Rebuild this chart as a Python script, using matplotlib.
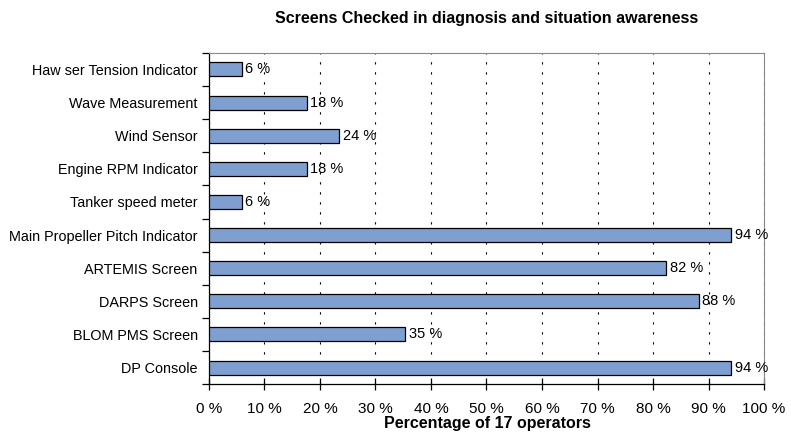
import matplotlib.pyplot as plt
import numpy as np
from matplotlib.ticker import MultipleLocator, FuncFormatter

plt.rcParams['font.family'] = ['Liberation Sans', 'DejaVu Sans']

# categories from top to bottom as in the chart
labels = ['Haw ser Tension Indicator', 'Wave Measurement', 'Wind Sensor',
          'Engine RPM Indicator', 'Tanker speed meter',
          'Main Propeller Pitch Indicator', 'ARTEMIS Screen', 'DARPS Screen',
          'BLOM PMS Screen', 'DP Console']
# percentage of 17 operators
values = [5.9, 17.6, 23.5, 17.6, 5.9, 94.1, 82.4, 88.2, 35.3, 94.1]
value_labels = ['6 %', '18 %', '24 %', '18 %', '6 %', '94 %', '82 %', '88 %', '35 %', '94 %']

fig = plt.figure(figsize=(7.91, 4.37), dpi=100)
ax = fig.add_axes([0.264, 0.121, 0.702, 0.758])

y = np.arange(len(labels))[::-1]
ax.barh(y, values, height=0.42, color='#7f9fd1', edgecolor='black', linewidth=0.9, zorder=3)

for yi, v, t in zip(y, values, value_labels):
    ax.text(v + 0.7, yi, t, va='center', ha='left', fontsize=10.5, zorder=4)

ax.set_xlim(0, 100)
ax.set_ylim(-0.5, len(labels) - 0.5)
ax.xaxis.set_major_locator(MultipleLocator(10))
ax.xaxis.set_major_formatter(FuncFormatter(lambda v, p: '%d %%' % v))

# category labels between tick marks
ax.set_yticks(np.arange(-0.5, len(labels), 1.0))
ax.set_yticklabels([])
ax.set_yticks(y, minor=True)
ax.set_yticklabels(labels, minor=True, fontsize=10.4)
ax.tick_params(axis='y', which='minor', length=0, pad=8)
ax.tick_params(axis='y', which='major', length=5, direction='out', width=0.9)
ax.tick_params(axis='x', length=8, direction='inout', width=0.9, labelsize=11, pad=9)

ax.grid(axis='x', color='black', linestyle=(0, (2, 7)), linewidth=0.8, zorder=0)

ax.spines['top'].set_color('#888888')
ax.spines['right'].set_color('#888888')
ax.spines['left'].set_linewidth(0.9)
ax.spines['bottom'].set_linewidth(0.9)

fig.text(0.616, 0.032, 'Percentage of 17 operators',
         ha='center', va='center', fontsize=11.5, fontweight='bold')
fig.text(0.615, 0.957, 'Screens Checked in diagnosis and situation awareness',
         ha='center', va='center', fontsize=11.5, fontweight='bold')

fig.savefig('out.png', dpi=100)
